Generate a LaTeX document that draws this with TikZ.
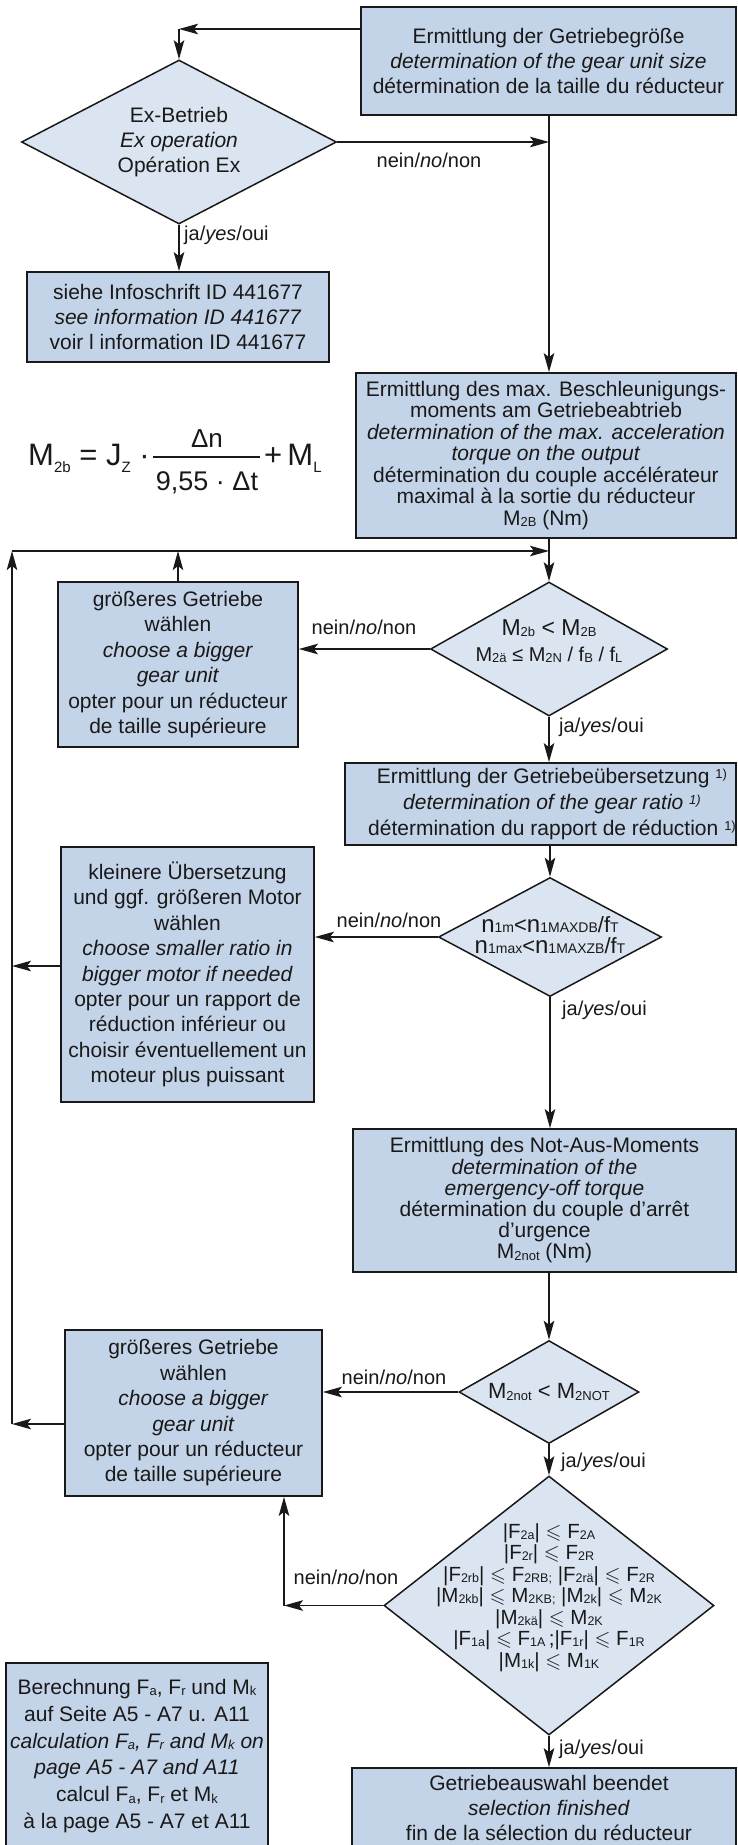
\documentclass[tikz,border=0pt]{standalone}
\usepackage{fontspec}
\setmainfont{Liberation Sans}
\usepackage{amssymb}
\usetikzlibrary{shapes.geometric,arrows.meta}
\definecolor{boxfill}{RGB}{196,212,232}
\definecolor{diafill}{RGB}{219,229,241}
\definecolor{linec}{RGB}{25,25,25}
\newcommand\fs[2]{\fontsize{#1}{#2}\selectfont}
\newcommand\lo[1]{\raisebox{-1.5pt}{\fs{13}{13}#1}}
\newcommand\loo[1]{\raisebox{-0.8pt}{\fs{12.5}{12.5}#1}}
\newcommand\sm[1]{{\fs{14}{14}#1}}
\newcommand\hi[1]{\raisebox{5pt}{\fs{13}{13}#1}}
\newcommand\leqs{$\leqslant$}
\begin{document}
\begin{tikzpicture}[x=1pt,y=-1pt,
  box/.style={draw=linec, line width=1.7pt, fill=boxfill, inner sep=0pt, align=center, text=black!90},
  dia/.style={diamond, draw=linec, line width=1.5pt, fill=diafill, inner sep=0pt},
  txt/.style={align=center, inner sep=0pt, text=black!90},
  arr/.style={draw=linec, line width=1.7pt, -{Stealth[length=19pt,width=10.5pt,inset=4pt]}},
  ln/.style={draw=linec, line width=1.6pt},
  lab/.style={inner sep=0pt, font=\fs{20}{24}, text=black!90}]
\useasboundingbox (0,0) rectangle (737,1845);
\fill[white] (0,0) rectangle (737,1845);

% ---------- shapes ----------
\node[box, minimum width=375pt, minimum height=108pt, font=\fs{21}{25}] (b1) at (548.5,61)
  {Ermittlung der Getriebegröße\\\textit{determination of the gear unit size}\\détermination de la taille du réducteur};

\node[dia, minimum width=315pt, minimum height=164pt] (d1) at (179,142) {};
\node[txt, font=\fs{21}{25}] (d1t) at (179,142) {Ex-Betrieb\\\textit{Ex operation}\\Opération Ex};

\node[box, minimum width=302pt, minimum height=90pt, font=\fs{21}{25}] (info) at (178,317)
  {siehe Infoschrift ID 441677\\\textit{see information ID 441677}\\voir l information ID 441677};

\node[box, minimum width=380pt, minimum height=165pt, font=\fs{21}{21.5}] (b2) at (546,455.5)
  {Ermittlung des max. Beschleunigungs-\\moments am Getriebeabtrieb\\\textit{determination of the max. acceleration}\\\textit{torque on the output}\\détermination du couple accélérateur\\maximal à la sortie du réducteur\\M\lo{2B} (Nm)};

% formula
\node[txt, anchor=base west, font=\fs{31}{31}] (fa) at (28,465)
  {M\raisebox{-7pt}{\fs{15}{15}2b} = J\raisebox{-7pt}{\fs{15}{15}Z} ·};
\node[txt, anchor=base, font=\fs{26}{26}] (fn) at (207,447) {Δn};
\node[txt, anchor=base, font=\fs{27}{27}] (fd) at (207,490) {9,55 · Δt};
\coordinate (fbl) at (153,457);
\coordinate (fbr) at (260,457);
\draw[ln, line width=1.4pt] (fbl) -- (fbr);
\node[txt, anchor=base west, font=\fs{31}{31}] (fp) at (264,465)
  {+\,M\raisebox{-7pt}{\fs{15}{15}L}};

\node[dia, minimum width=237pt, minimum height=134pt] (d2) at (549,649) {};
\node[txt, font=\fs{23}{23}] (d2a) at (549,628) {M\lo{2b} < M\lo{2B}};
\node[txt, font=\fs{20}{20}] (d2b) at (549,655) {M\lo{2ä} ≤ M\lo{2N} / f\lo{B} / f\lo{L}};

\node[box, minimum width=240pt, minimum height=165pt, font=\fs{21}{25.4}] (bg1) at (178,664.5)
  {größeres Getriebe\\wählen\\\textit{choose a bigger}\\\textit{gear unit}\\opter pour un réducteur\\de taille supérieure};

\node[box, minimum width=391pt, minimum height=82pt] (b3) at (540.5,804) {};
\node[txt, font=\fs{21}{26}] (b3t) at (552,804)
  {Ermittlung der Getriebeübersetzung \hi{1)}\\\textit{determination of the gear ratio \hi{1)}}\\détermination du rapport de réduction \hi{1)}};

\node[dia, minimum width=223pt, minimum height=119pt] (d3) at (550,937) {};
\node[txt, font=\fs{22}{22}] (d3a) at (550,925) {{\fs{24}{24}n}\sm{1m}<{\fs{24}{24}n}\sm{1MAXDB}/f\sm{T}};
\node[txt, font=\fs{22}{22}] (d3b) at (550,946) {{\fs{24}{24}n}\sm{1max}<{\fs{24}{24}n}\sm{1MAXZB}/f\sm{T}};

\node[box, minimum width=253pt, minimum height=255pt, font=\fs{21}{25.4}] (kl) at (187.5,974.5)
  {kleinere Übersetzung\\und ggf. größeren Motor\\wählen\\\textit{choose smaller ratio in}\\\textit{bigger motor if needed}\\opter pour un rapport de\\réduction inférieur ou\\choisir éventuellement un\\moteur plus puissant};

\node[box, minimum width=383pt, minimum height=143pt, font=\fs{21}{21.2}] (b4) at (544.5,1200.5)
  {Ermittlung des Not-Aus-Moments\\\textit{determination of the}\\\textit{emergency-off torque}\\détermination du couple d'arrêt\\d'urgence\\M\lo{2not} (Nm)};

\node[dia, minimum width=180pt, minimum height=103pt] (d4) at (549,1392) {};
\node[txt, font=\fs{22}{22}] (d4t) at (549,1392) {M\lo{2not} < M\lo{2NOT}};

\node[box, minimum width=257pt, minimum height=166pt, font=\fs{21}{25.4}] (bg2) at (193.5,1413)
  {größeres Getriebe\\wählen\\\textit{choose a bigger}\\\textit{gear unit}\\opter pour un réducteur\\de taille supérieure};

\node[dia, minimum width=330pt, minimum height=259pt] (d5) at (549,1605.5) {};
\node[txt, font=\fs{20.5}{21.5}] (d5t) at (549,1597.5)
  {|F\loo{2a}| \leqs{} F\loo{2A}\\
   |F\loo{2r}| \leqs{} F\loo{2R}\\
   |F\loo{2rb}| \leqs{} F\loo{2RB;} |F\loo{2rä}| \leqs{} F\loo{2R}\\
   |M\loo{2kb}| \leqs{} M\loo{2KB;} |M\loo{2k}| \leqs{} M\loo{2K}\\
   |M\loo{2kä}| \leqs{} M\loo{2K}\\
   |F\loo{1a}| \leqs{} F\loo{1A}\,;|F\loo{1r}| \leqs{} F\loo{1R}\\
   |M\loo{1k}| \leqs{} M\loo{1K}};

\node[box, minimum width=384pt, minimum height=102pt] (fin) at (544,1819) {};
\node[txt, font=\fs{21}{25}] (fint) at (549,1808)
  {Getriebeauswahl beendet\\\textit{selection finished}\\fin de la sélection du réducteur};

\node[box, minimum width=262pt, minimum height=207pt] (calc) at (137,1766.5) {};
\node[txt, font=\fs{21}{26.8}] (calct) at (137,1756)
  {Berechnung F\lo{a}, F\lo{r} und M\lo{k}\\auf Seite A5 - A7 u. A11\\\textit{calculation F\lo{a}, F\lo{r} and M\lo{k} on}\\\textit{page A5 - A7 and A11}\\calcul F\lo{a}, F\lo{r} et M\lo{k}\\à la page A5 - A7 et A11};

% ---------- connectors ----------
\coordinate (c1) at (179,29);
\draw[arr] (b1.west |- c1) -- (c1);
\draw[arr] (c1) -- (d1.north);
\coordinate (c2) at (549,142);
\draw[arr] (d1.east) -- (c2);
\draw[arr] (c2 |- b1.south) -- (c2 |- b2.north);
\draw[arr] (d1.south) -- (d1.south |- info.north);

\coordinate (L1) at (12,551);
\coordinate (J1) at (549,551);
\coordinate (L3) at (12,966);
\coordinate (L2) at (12,1424);
\draw[arr] (L1) -- (J1);
\draw[arr] (L2) -- (L1);
\draw[arr] (d2.north |- b2.south) -- (d2.north);
\draw[arr] (bg1.north) -- (bg1.north |- L1);
\draw[arr] (d2.west) -- (d2.west -| bg1.east);
\draw[arr] (d2.south) -- (d2.south |- b3.north);
\draw[arr] (d3.north |- b3.south) -- (d3.north);
\draw[arr] (d3.west) -- (d3.west -| kl.east);
\draw[arr] (kl.west |- L3) -- (L3);
\draw[arr] (d3.south) -- (d3.south |- b4.north);
\draw[arr] (d4.north |- b4.south) -- (d4.north);
\draw[arr] (d4.west) -- (d4.west -| bg2.east);
\draw[arr] (bg2.west |- L2) -- (L2);
\draw[arr] (d4.south) -- (d5.north);
\coordinate (c5) at (284,1605.5);
\draw[arr] (d5.west) -- (c5);
\draw[arr] (c5) -- (c5 |- bg2.south);
\draw[arr] (d5.south) -- (d5.south |- fin.north);

% ---------- labels ----------
\node[lab] (n1) at (429,160) {nein/\textit{no}/non};
\node[lab, anchor=west] (j1) at (184,235) {ja/\textit{yes}/oui};
\node[lab] (n2) at (364,627) {nein/\textit{no}/non};
\node[lab, anchor=west] (j2) at (559,727) {ja/\textit{yes}/oui};
\node[lab] (n3) at (389,920) {nein/\textit{no}/non};
\node[lab, anchor=west] (j3) at (562,1010) {ja/\textit{yes}/oui};
\node[lab] (n4) at (394,1377) {nein/\textit{no}/non};
\node[lab, anchor=west] (j4) at (561,1462) {ja/\textit{yes}/oui};
\node[lab] (n5) at (346,1577) {nein/\textit{no}/non};
\node[lab, anchor=west] (j5) at (559,1749) {ja/\textit{yes}/oui};
\end{tikzpicture}
\end{document}
